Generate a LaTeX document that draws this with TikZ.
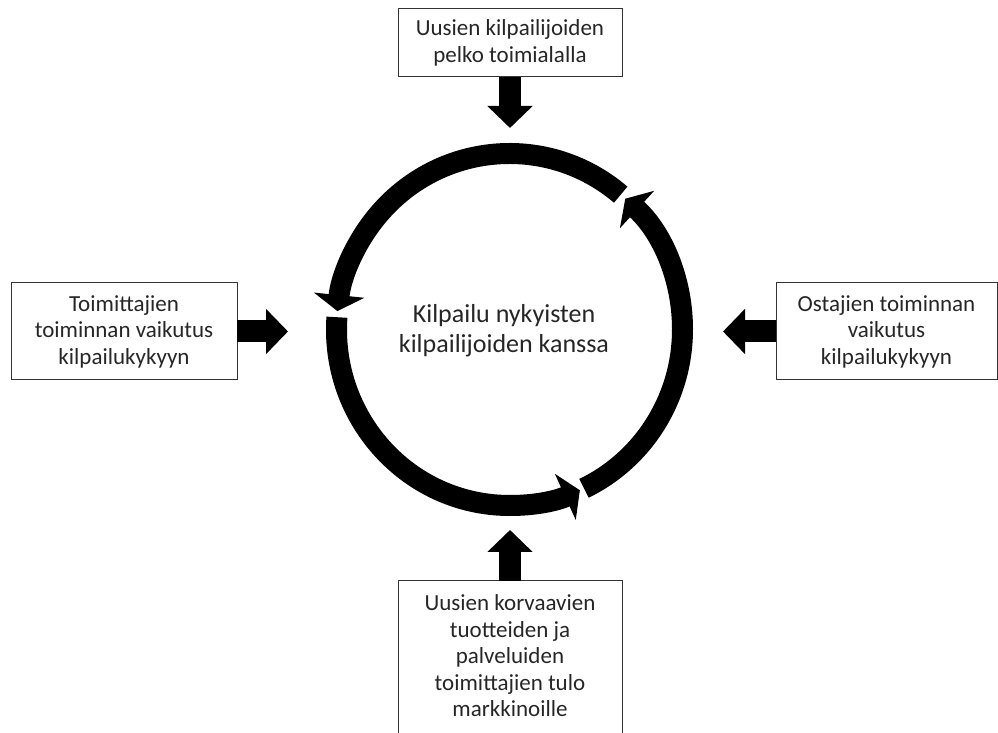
\documentclass[tikz,border=0pt]{standalone}
\usepackage{fontspec}
\setmainfont{Carlito}
\usetikzlibrary{arrows.meta,positioning,calc}
\definecolor{txtc}{HTML}{262626}
\tikzset{
  box/.style={draw=black!80, line width=1pt, inner sep=0pt, outer sep=0pt, align=center, text=txtc, font=\fontsize{23}{26.5}\selectfont},
  fat/.style={-{Triangle[width=44pt,length=22pt]}, line width=22pt},
  ring/.style={-{Triangle[width=50pt,length=16pt]}, line width=21pt},
}
\begin{document}
\begin{tikzpicture}[x=1pt,y=1pt]
  \useasboundingbox (0,0) rectangle (998,733);
  \coordinate (ctr) at (509.5,403.5);
  % the four forces
  \node[box, minimum width=224pt, minimum height=68pt] (entr) at (510,690) {Uusien kilpailijoiden\\pelko toimialalla};
  \node[box, minimum width=226pt, minimum height=97pt] (supl) at (124,401.5) {Toimittajien\\toiminnan vaikutus\\kilpailukykyyn};
  \node[box, minimum width=221pt, minimum height=97pt] (buyr) at (886.5,401.5) {Ostajien toiminnan\\vaikutus\\kilpailukykyyn};
  \node[box, minimum width=224pt, inner ysep=14pt, text depth=40pt, anchor=north] (subs) at (510,152) {Uusien korvaavien\\tuotteiden ja\\palveluiden\\toimittajien tulo\\markkinoille};
  % rivalry in the middle
  \node[align=center, text=txtc, font=\fontsize{26}{30}\selectfont] (rivl) at (504,402) {Kilpailu nykyisten\\kilpailijoiden kanssa};
  \coordinate[below=51pt of entr] (entrtip);
  \coordinate[right=51pt of supl] (supltip);
  \coordinate[left=53pt of buyr] (buyrtip);
  \coordinate[above=51pt of subs] (substip);
  \draw[fat] (entr.south) -- (entrtip);
  \draw[fat] (supl.east) -- (supltip);
  \draw[fat] (buyr.west) -- (buyrtip);
  \draw[fat] (subs.north) -- (substip);
  % circular arrows
  \draw[ring] (ctr) ++(50:173 and 176) arc[start angle=50, end angle=174, x radius=173, y radius=176];
  \draw[ring] (ctr) ++(176:173 and 176) arc[start angle=176, end angle=294, x radius=173, y radius=176];
  \draw[ring] (ctr) ++(295.5:173 and 176) arc[start angle=295.5, end angle=408, x radius=173, y radius=176];
\end{tikzpicture}
\end{document}
